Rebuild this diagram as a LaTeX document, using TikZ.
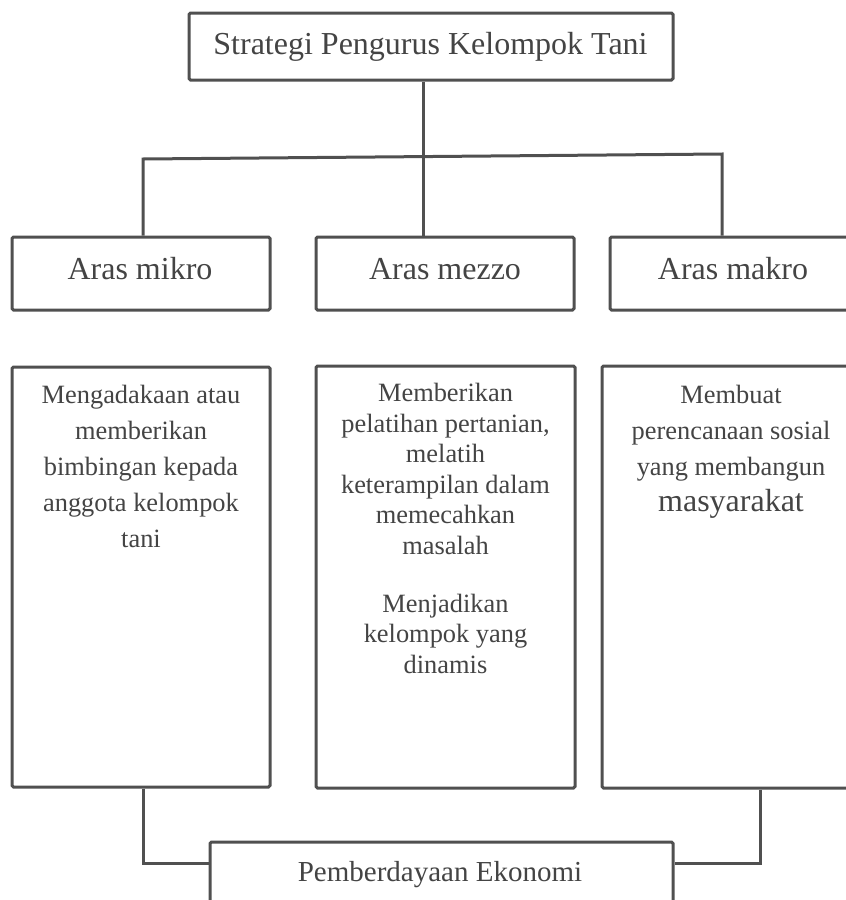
\documentclass[tikz,border=0pt]{standalone}
\usepackage{fontspec}
\setmainfont{Liberation Serif}
\definecolor{ink}{RGB}{80,80,80}
\definecolor{inktext}{RGB}{68,68,68}
\begin{document}
\begin{tikzpicture}[x=1pt,y=-1pt,
  ln/.style={line width=3pt, draw=ink},
  box/.style={rectangle, draw=ink, line width=3pt, rounded corners=1.5pt, inner sep=0pt},
  txtbig/.style={text=inktext, inner sep=0pt, font=\fontsize{32}{36}\selectfont},
  txtbody/.style={text=inktext, inner sep=0pt, align=center, font=\fontsize{26.4}{36}\selectfont},
  txtmid/.style={text=inktext, inner sep=0pt, align=center, font=\fontsize{26.4}{30.5}\selectfont},
]
\useasboundingbox (0,0) rectangle (846,900);
\clip (0,0) rectangle (846,900);
\fill[white] (0,0) rectangle (846,900);

% boxes
\node[box, minimum width=484pt, minimum height=67pt] (top) at (431,46.5) {};
\node[box, minimum width=258pt, minimum height=73pt] (mikro) at (141,273.5) {};
\node[box, minimum width=258pt, minimum height=73pt] (mezzo) at (445,273.5) {};
\node[box, minimum width=248pt, minimum height=73pt] (makro) at (734,273.5) {};
\node[box, minimum width=258pt, minimum height=420pt] (mikroT) at (141,577) {};
\node[box, minimum width=259pt, minimum height=422pt] (mezzoT) at (445.5,577) {};
\node[box, minimum width=258pt, minimum height=422pt] (makroT) at (731,577) {};
\node[box, minimum width=463pt, minimum height=63pt] (bottom) at (441.5,873.5) {};

% texts
\node[txtbig, anchor=base] (ttop) at (430.5,54) {Strategi Pengurus Kelompok Tani};
\node[txtbig, anchor=base] (tmikro) at (140,279) {Aras mikro};
\node[txtbig, anchor=base] (tmezzo) at (445,279) {Aras mezzo};
\node[txtbig, anchor=base] (tmakro) at (733,279) {Aras makro};
\node[txtbody, anchor=north] (tmikroT) at (141,385) {Mengadakaan atau\\memberikan\\bimbingan kepada\\anggota kelompok\\tani};
\node[txtmid, anchor=north] (tmezzoT) at (445.5,383) {Memberikan\\pelatihan pertanian,\\melatih\\keterampilan dalam\\memecahkan\\masalah\\[27.5pt]Menjadikan\\kelompok yang\\dinamis};
\node[txtbody, anchor=north] (tmakroT) at (731,385) {Membuat\\perencanaan sosial\\yang membangun\\{\fontsize{32}{36}\selectfont masyarakat}};
\node[text=inktext, inner sep=0pt, font=\fontsize{29}{34}\selectfont, anchor=base] (tbottom) at (440,881) {Pemberdayaan Ekonomi};

% connectors
\coordinate (hL) at (143,159);
\coordinate (hR) at (722,154);
\coordinate (stem) at (423,0);
\coordinate (bL) at (143,863);
\coordinate (bR) at (760,863);
\draw[ln] (hL |- mikro.north) -- (hL) -- (hR) -- (hR |- makro.north);
\draw[ln] (stem |- top.south) -- (stem |- mezzo.north);
\draw[ln] (bL |- mikroT.south) -- (bL) -- (bottom.west |- bL);
\draw[ln] (bR |- makroT.south) -- (bR) -- (bottom.east |- bR);
\end{tikzpicture}
\end{document}
